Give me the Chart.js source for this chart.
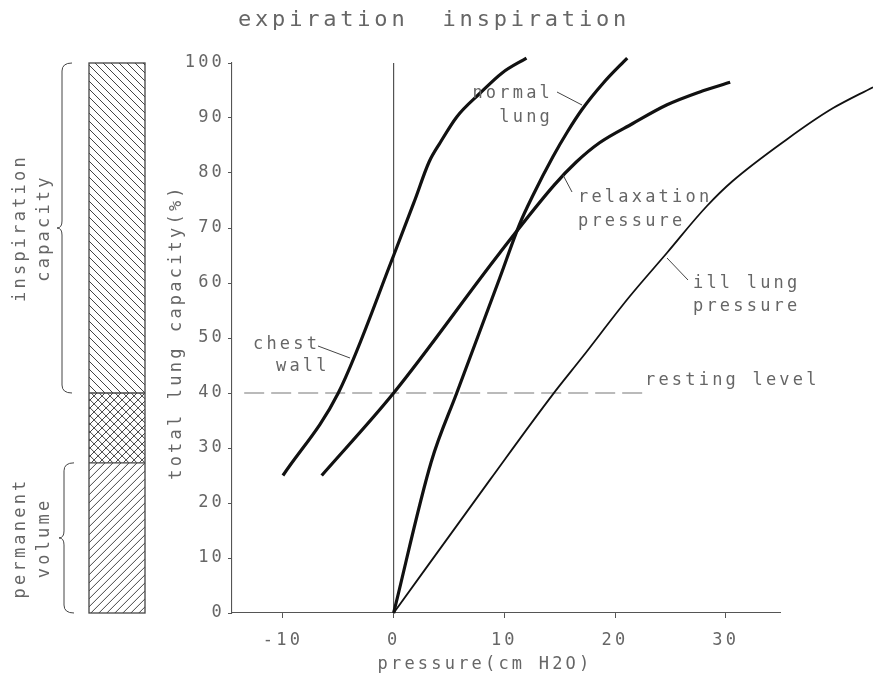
<!DOCTYPE html>
<html>
<head>
<meta charset="utf-8">
<script src="https://cdn.jsdelivr.net/npm/chart.js@4"></script>
<style>
  body { margin: 0; background: #fff; }
</style>
</head>
<body>
<canvas id="chart" width="873" height="685"></canvas>
<script>
// tick values
const xTicks = [-10, 0, 10, 20, 30];
const yTicks = [0, 10, 20, 30, 40, 50, 60, 70, 80, 90, 100];

// curves (pressure cm H2O -> % of total lung capacity)
const chestWallX = [-10, -5, 0, 1.9, 3.2, 4.2, 5.7, 7.8, 9.8, 12];
const chestWallY = [25, 40, 65, 75, 82, 85.5, 90.2, 94.5, 98.2, 100.9];

const normalLungX = [0, 3.4, 5.7, 9.6, 11.4, 12.6, 14.4, 15.7, 17, 19, 21.1];
const normalLungY = [0, 27.5, 40, 61, 70.8, 76, 83, 87.5, 91.5, 96.5, 100.9];

const relaxationX = [-6.5, 0, 9.6, 14.5, 16.5, 18.6, 21.6, 24.7, 27.6, 30.4];
const relaxationY = [25, 40, 65.5, 77.8, 82, 85.5, 89, 92.4, 94.7, 96.5];

const illLungX = [0, 8.7, 14.4, 17, 21.3, 24.7, 28.3, 30.6, 35.1, 39.7, 43.3];
const illLungY = [0, 24.2, 39.8, 46.4, 57.5, 65.5, 74, 78.5, 85.5, 91.8, 95.6];

// reference lines
const zeroLineX = [0, 0];
const zeroLineY = [0, 100];
const restingX = [-13.5, 22.7];
const restingY = [40, 40];

// left volume bar: boundaries in % (inspiration capacity / overlap / permanent volume)
const barBounds = [100, 40, 27.3, 0];

const textColor = '#666';
const fontFamily = '"DejaVu Sans Mono", monospace';

function toPoints(xs, ys) {
  return xs.map((x, i) => ({ x: x, y: ys[i] }));
}

function hatch(ctx, x0, x1, y0, y1, dir, step) {
  ctx.save();
  ctx.beginPath();
  ctx.rect(x0, y0, x1 - x0, y1 - y0);
  ctx.clip();
  ctx.beginPath();
  const h = y1 - y0;
  for (let s = x0 - h - step; s < x1 + h + step; s += step) {
    if (dir > 0) { // "\"
      ctx.moveTo(s, y0);
      ctx.lineTo(s + h, y1);
    } else {       // "/"
      ctx.moveTo(s, y1);
      ctx.lineTo(s + h, y0);
    }
  }
  ctx.stroke();
  ctx.restore();
}

function brace(ctx, x, yTop, yBot, yTip) {
  ctx.beginPath();
  ctx.moveTo(x + 10, yTop);
  ctx.quadraticCurveTo(x, yTop, x, yTop + 8);
  ctx.lineTo(x, yTip - 7);
  ctx.quadraticCurveTo(x, yTip, x - 5, yTip);
  ctx.quadraticCurveTo(x, yTip, x, yTip + 7);
  ctx.lineTo(x, yBot - 8);
  ctx.quadraticCurveTo(x, yBot, x + 10, yBot);
  ctx.stroke();
}

function text(ctx, str, x, y, align, size, spacing) {
  ctx.font = (size || 17) + 'px ' + fontFamily;
  ctx.letterSpacing = (spacing == null ? 3.2 : spacing) + 'px';
  ctx.textAlign = align || 'left';
  ctx.textBaseline = 'middle';
  ctx.fillText(str, x, y);
}

function vtext(ctx, str, x, y, size, spacing) {
  ctx.save();
  ctx.translate(x, y);
  ctx.rotate(-Math.PI / 2);
  text(ctx, str, 0, 0, 'center', size, spacing);
  ctx.restore();
}

function leader(ctx, x0, y0, x1, y1) {
  ctx.beginPath();
  ctx.moveTo(x0, y0);
  ctx.lineTo(x1, y1);
  ctx.stroke();
}

// wide plotter-like spacing for the tick labels as well
const spacing = {
  id: 'spacing',
  beforeUpdate(chart) { chart.ctx.letterSpacing = '3.2px'; },
  beforeDraw(chart) { chart.ctx.letterSpacing = '3.2px'; }
};

const decorations = {
  id: 'decorations',
  afterDraw(chart) {
    const ctx = chart.ctx;
    const y = chart.scales.y;
    ctx.save();
    ctx.fillStyle = textColor;
    ctx.strokeStyle = '#444';
    ctx.lineWidth = 1;

    // volume bar
    const bx0 = 89, bx1 = 145;
    const yb = barBounds.map(v => y.getPixelForValue(v));
    hatch(ctx, bx0, bx1, yb[0], yb[1], 1, 8);
    hatch(ctx, bx0, bx1, yb[1], yb[2], 1, 8);
    hatch(ctx, bx0, bx1, yb[1], yb[2], -1, 8);
    hatch(ctx, bx0, bx1, yb[2], yb[3], -1, 8);
    ctx.lineWidth = 1.3;
    ctx.strokeRect(bx0, yb[0], bx1 - bx0, yb[3] - yb[0]);
    ctx.beginPath();
    ctx.moveTo(bx0, yb[1]); ctx.lineTo(bx1, yb[1]);
    ctx.moveTo(bx0, yb[2]); ctx.lineTo(bx1, yb[2]);
    ctx.stroke();

    // braces and their labels
    ctx.lineWidth = 1;
    brace(ctx, 62, yb[0], yb[1], (yb[0] + yb[1]) / 2);
    brace(ctx, 64, yb[2], yb[3], (yb[2] + yb[3]) / 2);
    vtext(ctx, 'inspiration', 21, (yb[0] + yb[1]) / 2);
    vtext(ctx, 'capacity', 45, (yb[0] + yb[1]) / 2);
    vtext(ctx, 'permanent', 21, (yb[2] + yb[3]) / 2);
    vtext(ctx, 'volume', 45, (yb[2] + yb[3]) / 2);

    // title and axis titles
    text(ctx, 'expiration  inspiration', 238, 20, 'left', 22, 3.8);
    vtext(ctx, 'total lung capacity(%)', 177, 332);
    text(ctx, 'pressure(cm H2O)', 485, 665, 'center');

    // curve labels
    text(ctx, 'normal', 553, 94, 'right');
    text(ctx, 'lung', 553, 118, 'right');
    leader(ctx, 557, 92, 582, 105);
    text(ctx, 'relaxation', 578, 198);
    text(ctx, 'pressure', 578, 222);
    leader(ctx, 563, 175, 572, 192);
    text(ctx, 'ill lung', 693, 284);
    text(ctx, 'pressure', 693, 307);
    leader(ctx, 667, 258, 688, 280);
    text(ctx, 'chest', 253, 345);
    text(ctx, 'wall', 276, 367);
    leader(ctx, 318, 346, 350, 358);
    text(ctx, 'resting level', 645, 381);
    ctx.restore();
  }
};

const thick = { borderColor: '#111', borderWidth: 3.2, pointRadius: 0, fill: false, clip: false, cubicInterpolationMode: 'monotone' };

new Chart(document.getElementById('chart'), {
  type: 'line',
  data: {
    datasets: [
      Object.assign({ label: 'chest wall', data: toPoints(chestWallX, chestWallY) }, thick),
      Object.assign({ label: 'normal lung', data: toPoints(normalLungX, normalLungY) }, thick),
      Object.assign({ label: 'relaxation pressure', data: toPoints(relaxationX, relaxationY) }, thick),
      // runs past the right end of the axis, so it is indexed on y to keep every point
      { label: 'ill lung pressure', data: toPoints(illLungX, illLungY), indexAxis: 'y', borderColor: '#111', borderWidth: 1.8,
        pointRadius: 0, fill: false, clip: false, cubicInterpolationMode: 'monotone' },
      { label: 'zero', data: toPoints(zeroLineX, zeroLineY), indexAxis: 'y', borderColor: '#444', borderWidth: 1.1,
        pointRadius: 0, fill: false, clip: false },
      { label: 'resting level', data: toPoints(restingX, restingY), borderColor: '#777', borderWidth: 1.1,
        borderDash: [20, 7], pointRadius: 0, fill: false, clip: false }
    ]
  },
  options: {
    responsive: false,
    animation: false,
    layout: { padding: { left: 150, right: 93, top: 63, bottom: 20 } },
    plugins: { legend: { display: false }, tooltip: { enabled: false } },
    scales: {
      x: {
        type: 'linear',
        min: -14.6,
        max: 34.9,
        afterBuildTicks: s => { s.ticks = xTicks.map(v => ({ value: v })); },
        afterFit: s => { s.height = 52; s.paddingLeft = 0; s.paddingRight = 0; },
        border: { display: true, color: '#555', width: 1.1 },
        grid: { drawOnChartArea: false, drawTicks: true, tickLength: 5, color: '#555' },
        ticks: { color: textColor, padding: 12, maxRotation: 0, font: { family: fontFamily, size: 17 } }
      },
      y: {
        type: 'linear',
        min: 0,
        max: 100,
        afterBuildTicks: s => { s.ticks = yTicks.map(v => ({ value: v })); },
        afterFit: s => { s.width = 82; s.paddingTop = 0; s.paddingBottom = 0; },
        border: { display: true, color: '#555', width: 1.1 },
        grid: { drawOnChartArea: false, drawTicks: true, tickLength: 4, color: '#555' },
        ticks: { color: textColor, padding: 3, font: { family: fontFamily, size: 17 } }
      }
    }
  },
  plugins: [spacing, decorations]
});
</script>
</body>
</html>
